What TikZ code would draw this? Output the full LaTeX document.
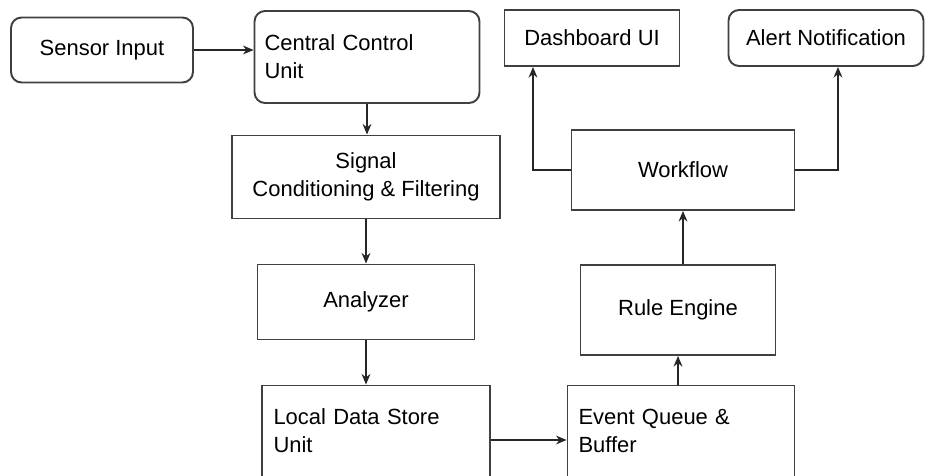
\documentclass[tikz,border=0pt]{standalone}
\usepackage{fontspec}
\setmainfont{Liberation Sans}
\usetikzlibrary{arrows.meta}
\begin{document}
\begin{tikzpicture}[x=0.02cm,y=-0.02cm,
  box/.style={draw=black!75,line width=1.1pt,fill=white,inner sep=4pt,font=\fontsize{12.5}{16}\selectfont},
  roundbox/.style={box,rounded corners=6pt},
  flow/.style={draw=black!85,line width=1.1pt,-{Stealth[length=6pt,width=5pt]}}]
\useasboundingbox (0,0) rectangle (929,476);

% top row
\node[roundbox,minimum width=3.64cm,minimum height=1.3cm,align=center] (src) at (102,50) {Sensor Input};
\node[roundbox,minimum width=4.5cm,minimum height=1.84cm,align=left,text width=4.1cm] (ctrl) at (367,57) {Central Control\\Unit};
\node[box,minimum width=3.5cm,minimum height=1.12cm] (dash) at (592,38) {Dashboard UI};
\node[roundbox,minimum width=3.9cm,minimum height=1.12cm] (note) at (826,38) {Alert Notification};

% left column
\node[box,minimum width=5.36cm,minimum height=1.66cm,align=center] (sig) at (366,177) {Signal\\Conditioning \& Filtering};
\node[box,minimum width=4.34cm,minimum height=1.5cm] (ana) at (366,302) {Analyzer};
\node[box,minimum width=4.56cm,minimum height=1.82cm,align=left,text width=4.1cm] (store) at (376,431) {Local Data Store\\Unit};

% right column
\node[box,minimum width=4.54cm,minimum height=1.82cm,align=left,text width=4.1cm] (queue) at (681,431) {Event Queue \&\\Buffer};
\node[box,minimum width=3.9cm,minimum height=1.8cm] (rule) at (678,310) {Rule Engine};
\node[box,minimum width=4.46cm,minimum height=1.6cm] (wf) at (683,170) {Workflow};

% entry points of the two upward branches
\coordinate (dashin) at (533,67);
\coordinate (notein) at (838,67);

% connectors
\draw[flow] (src.east) -- (ctrl.west |- src.east);
\draw[flow] (ctrl.south) -- (sig.north -| ctrl.south);
\draw[flow] (sig.south) -- (ana.north);
\draw[flow] (ana.south) -- (ana.south |- store.north);
\draw[flow] (store.east |- 0,440) -- (queue.west |- 0,440);
\draw[flow] (queue.north -| rule.north) -- (rule.south);
\draw[flow] (rule.north -| wf.south) -- (wf.south);
\draw[flow] (wf.west) -| (dashin);
\draw[flow] (wf.east) -| (notein);
\end{tikzpicture}
\end{document}
